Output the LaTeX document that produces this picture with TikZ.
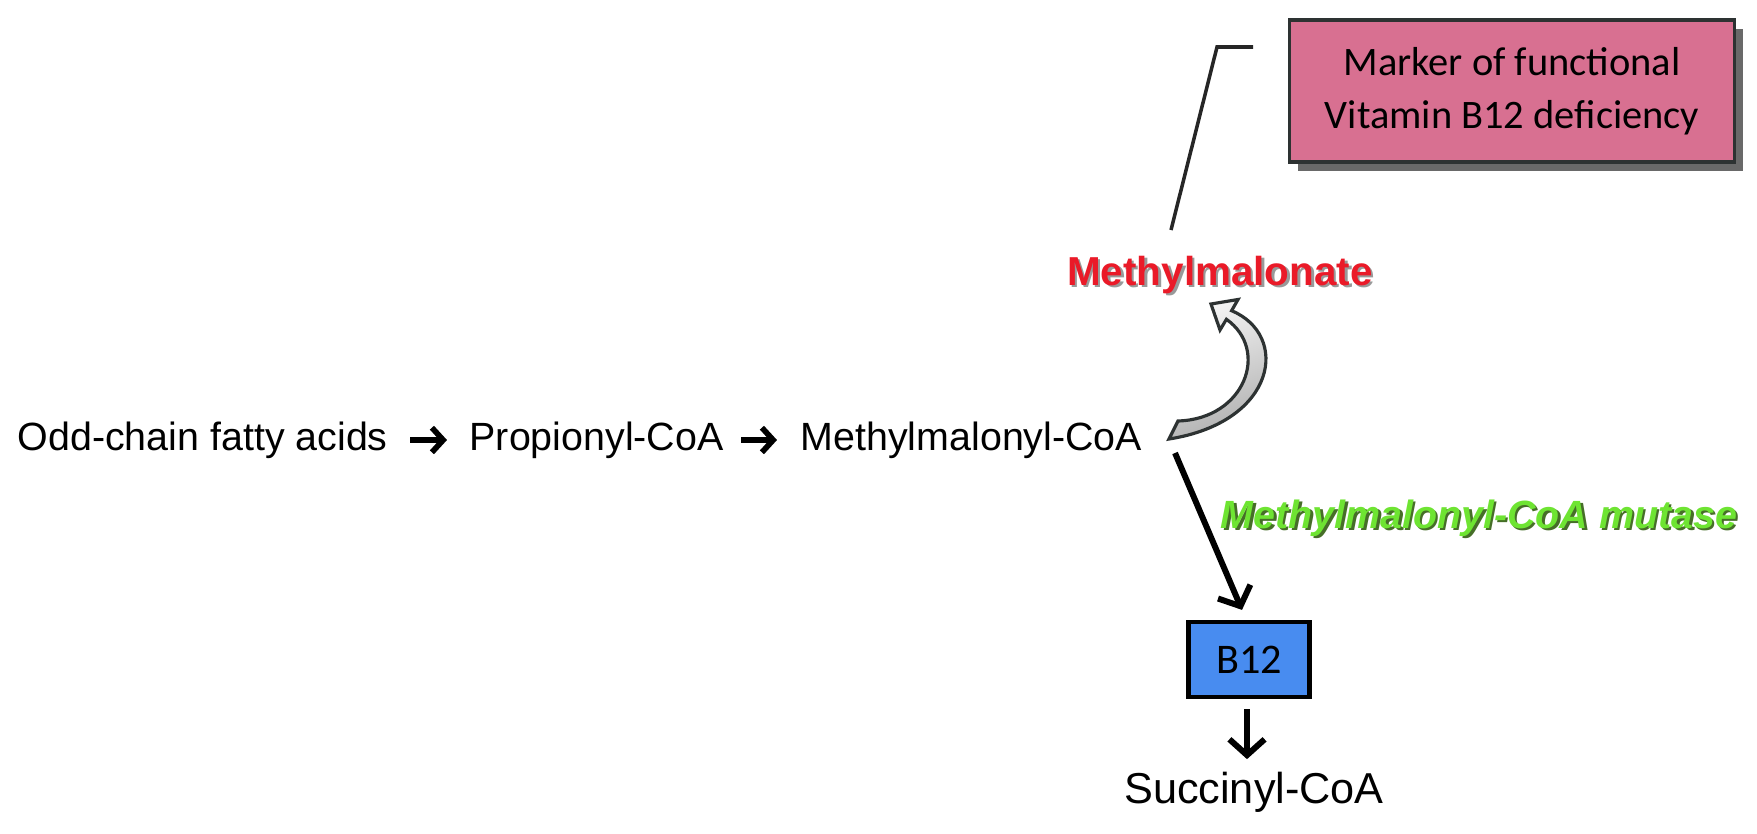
\documentclass[tikz,border=0pt]{standalone}
\usepackage{fontspec}
\setmainfont{Liberation Sans}
\newfontfamily\calib{Carlito}
\usetikzlibrary{arrows.meta,shadows}
\definecolor{pinkbox}{RGB}{216,112,145}
\definecolor{bluebox}{RGB}{72,140,240}
\definecolor{redtxt}{RGB}{234,26,40}
\definecolor{greentxt}{RGB}{110,228,50}
\definecolor{greenshadow}{RGB}{70,110,40}
\definecolor{edgegray}{RGB}{45,50,50}
\tikzset{
  chem/.style={font=\fontsize{11.2}{13}\selectfont, inner sep=0pt},
  markerbox/.style={draw=edgegray, line width=0.9pt, fill=pinkbox,
     minimum width=4.45cm, minimum height=1.42cm, align=center,
     font=\calib\fontsize{11.5}{15}\selectfont,
     drop shadow={shadow xshift=2.5pt, shadow yshift=-2.5pt, fill=black!65, opacity=0.9}},
  vitbox/.style={draw=black, line width=1.2pt, fill=bluebox,
     minimum width=1.21cm, minimum height=0.75cm,
     font=\calib\fontsize{12}{14}\selectfont},
  redlabel/.style={font=\bfseries\fontsize{11.5}{13}\selectfont, text=redtxt, inner sep=0pt},
  redshadow/.style={font=\bfseries\fontsize{11.5}{13}\selectfont, text=black!40, inner sep=0pt},
  greenlabel/.style={font=\bfseries\itshape\fontsize{11.2}{13}\selectfont, text=greentxt, inner sep=0pt},
  greenshade/.style={font=\bfseries\itshape\fontsize{11.2}{13}\selectfont, text=greenshadow, inner sep=0pt},
  rowarrow/.style={line width=1.6pt, -{Straight Barb[length=3.2pt,width=7pt]}},
  bigarrow/.style={line width=1.7pt, -{Straight Barb[length=4.5pt,width=10pt]}},
  bracketline/.style={line width=1pt, draw=black!85},
  curvedarrow/.style={draw=edgegray, line width=0.9pt, top color=white!92!gray, bottom color=gray!65, shading angle=20}
}
\begin{document}
\begin{tikzpicture}[x=0.01cm,y=-0.01cm]
\useasboundingbox (0,0) rectangle (1757,833);
% main row
\node[chem, anchor=west] (n1) at (17,440) {Odd-chain fatty acids};
\node[chem, anchor=west] (n2) at (469,440) {Propionyl-CoA};
\node[chem, anchor=west] (n3) at (800,440) {Methylmalonyl-CoA};
\draw[rowarrow] ([xshift=0.22cm]n1.east) -- ([xshift=-0.22cm]n2.west);
\draw[rowarrow] ([xshift=0.17cm]n2.east) -- ([xshift=-0.23cm]n3.west);
% methylmalonate
\node[redshadow] (mmashadow) at (1222.5,277.5) {Methylmalonate};
\node[redlabel] (mma) at (1220,275) {Methylmalonate};
% marker box and bracket
\node[markerbox] (marker) at (1512,91) {Marker of functional\\Vitamin B12 deficiency};
\coordinate (bk1) at (1253,47);
\coordinate (bk2) at (1217,47);
\coordinate (bk3) at (1171,230);
\draw[bracketline] (bk1) -- (bk2) -- (bk3);
% curved arrow
\path[curvedarrow] (1169,439) -- (1178,421)
  .. controls (1245,419) and (1270,350) .. (1226.4,319.3)
  -- (1220,330) -- (1211,304) -- (1238,299.5) -- (1231.6,310.7)
  .. controls (1290,335) and (1277,422) .. (1169,439) -- cycle;
% B12 and mutase
\node[vitbox] (b12) at (1249,659.5) {B12};
\node[greenshade] (mutshadow) at (1481.5,520.5) {Methylmalonyl-CoA mutase};
\node[greenlabel] (mutase) at (1479,518) {Methylmalonyl-CoA mutase};
\coordinate (dstart) at (1175,453);
\draw[bigarrow] (dstart) -- ([shift={(-7,-10)}]b12.north);
% succinyl
\node[chem, font=\fontsize{12.3}{14}\selectfont] (succ) at (1254,792) {Succinyl-CoA};
\draw[bigarrow] ([shift={(-2,10)}]b12.south) -- ([shift={(-7,-12)}]succ.north);
\end{tikzpicture}
\end{document}
